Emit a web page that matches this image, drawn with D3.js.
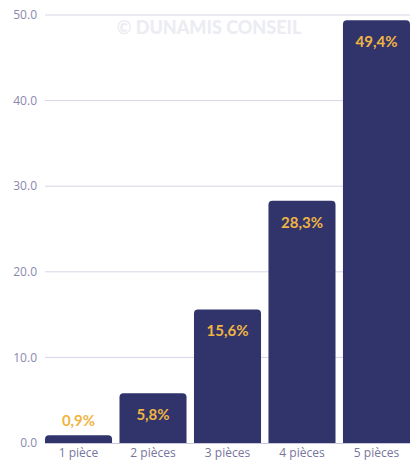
<!DOCTYPE html>
<html><head><meta charset="utf-8">
<script src="https://cdn.jsdelivr.net/npm/d3@7"></script>
<style>body{margin:0;background:#fff}svg{display:block}</style>
</head><body>
<script>
const categories = ["1 pièce","2 pièces","3 pièces","4 pièces","5 pièces"];
const values = [0.9, 5.8, 15.6, 28.3, 49.4];
const valueLabels = ["0,9%","5,8%","15,6%","28,3%","49,4%"];
const yTicks = [0,10,20,30,40,50];

const W=411,H=461;
const svg=d3.select("body").append("svg").attr("width",W).attr("height",H);
const x=d3.scaleBand().domain(categories).range([45,410]).paddingInner(0.1).paddingOuter(0);
const y=d3.scaleLinear().domain([0,50]).range([443,15]);

// grid
svg.append("g").selectAll("line").data(yTicks.filter(d=>d>0)).join("line")
  .attr("x1",45).attr("x2",410).attr("y1",d=>y(d)).attr("y2",d=>y(d))
  .attr("stroke","#d6d4e6").attr("stroke-width",1);

// watermark
svg.append("text").attr("x",209).attr("y",34).attr("text-anchor","middle")
  .attr("font-family","Lato, sans-serif").attr("font-weight",900).attr("font-size",18)
  .attr("fill","#ececf3").text("© DUNAMIS CONSEIL");

// y axis labels
svg.append("g").selectAll("text").data(yTicks).join("text")
  .attr("x",37).attr("y",d=>y(d)).attr("dy","0.35em").attr("text-anchor","end")
  .attr("font-family","'Open Sans', sans-serif").attr("font-size",12).attr("fill","#8a88ae")
  .text(d=>d3.format(".1f")(d));

// bars with rounded top
const r=4;
function barPath(x0,w,yt,yb){
  const rr=Math.min(r,(yb-yt));
  return `M${x0},${yb}V${yt+rr}Q${x0},${yt} ${x0+rr},${yt}H${x0+w-rr}Q${x0+w},${yt} ${x0+w},${yt+rr}V${yb}Z`;
}
svg.append("g").selectAll("path").data(values).join("path")
  .attr("d",(d,i)=>barPath(x(categories[i]),x.bandwidth(),y(d),y(0)))
  .attr("fill","#30346a");

// axis line
svg.append("line").attr("x1",45).attr("x2",410).attr("y1",443.5).attr("y2",443.5)
  .attr("stroke","#c9c7dc").attr("stroke-width",1);

// category labels
svg.append("g").selectAll("text").data(categories).join("text")
  .attr("x",d=>x(d)+x.bandwidth()/2).attr("y",457).attr("text-anchor","middle")
  .attr("font-family","'Open Sans', sans-serif").attr("font-size",12).attr("fill","#77759d")
  .text(d=>d);

// value labels
svg.append("g").selectAll("text").data(values).join("text")
  .attr("x",(d,i)=>x(categories[i])+x.bandwidth()/2)
  .attr("y",(d,i)=> (y(0)-y(d))<30 ? y(d)-9 : y(d)+27)
  .attr("text-anchor","middle")
  .attr("font-family","Lato, sans-serif").attr("font-weight",700).attr("font-size",15)
  .attr("fill","#f0b442")
  .text((d,i)=>valueLabels[i]);
</script>
</body></html>
